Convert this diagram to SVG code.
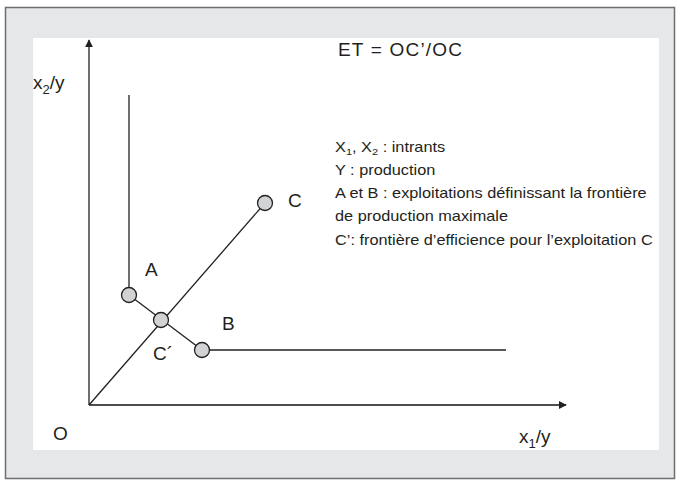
<svg xmlns="http://www.w3.org/2000/svg" width="676" height="480" viewBox="0 0 676 480">
<defs>
<style>
text{font-family:"Liberation Sans",Arial,sans-serif;fill:#231f20}
.big{font-size:19px}
.leg{font-size:14px}
.ln{stroke:#231f20;stroke-width:1.3;fill:none}
.pt{fill:#d1d3d4;stroke:#231f20;stroke-width:1.3}
</style>
<marker id="ah" viewBox="0 0 10 10" refX="9" refY="5" markerWidth="8" markerHeight="8" markerUnits="userSpaceOnUse" orient="auto"><path d="M0,0L10,5L0,10z" fill="#231f20"/></marker>
</defs>
<rect x="5.5" y="7.5" width="669" height="471" fill="#e6e7e8" stroke="#6d6e71" stroke-width="1.5"/>
<rect x="33" y="38" width="626" height="412" fill="#ffffff"/>
<g id="connectors">
<line class="ln" x1="89" y1="405" x2="89" y2="40" marker-end="url(#ah)"/>
<line x1="89" y1="405" x2="566" y2="405" stroke="#4d4d4f" stroke-width="2" marker-end="url(#ah)"/>
<line class="ln" x1="129" y1="95" x2="129" y2="295"/>
<line class="ln" x1="202" y1="350" x2="506" y2="350"/>
<line class="ln" x1="89" y1="405" x2="265" y2="203"/>
<line class="ln" x1="129" y1="295" x2="202" y2="350"/>
</g>
<g id="A"><circle class="pt" cx="129" cy="295" r="7.5"/><text class="big" x="145" y="276">A</text></g>
<g id="Cp"><circle class="pt" cx="161" cy="320" r="7.5"/><text class="big" x="153" y="360">C´</text></g>
<g id="B"><circle class="pt" cx="202" cy="350" r="7.5"/><text class="big" x="222" y="330">B</text></g>
<g id="C"><circle class="pt" cx="265" cy="203" r="7.5"/><text class="big" x="288" y="207">C</text></g>
<g id="O"><text class="big" x="53" y="440">O</text></g>
<g id="labels">
<text class="big" x="338" y="56" textLength="124">ET = OC’/OC</text>
<text class="big" x="33" y="89">x<tspan font-size="13" dy="5">2</tspan><tspan dy="-5">/y</tspan></text>
<text class="big" x="519" y="443">x<tspan font-size="13" dy="5">1</tspan><tspan dy="-5">/y</tspan></text>
</g>
<g id="legend" transform="translate(335,0) scale(1.165,1)">
<text class="leg" x="0" y="152">X<tspan font-size="9.5" dy="3">1</tspan><tspan dy="-3">, X</tspan><tspan font-size="9.5" dy="3">2</tspan><tspan dy="-3"> : intrants</tspan></text>
<text class="leg" x="0" y="175">Y : production</text>
<text class="leg" x="0" y="198">A et B : exploitations définissant la frontière</text>
<text class="leg" x="0" y="221">de production maximale</text>
<text class="leg" x="0" y="245">C’: frontière d’efficience pour l’exploitation C</text>
</g>
</svg>
